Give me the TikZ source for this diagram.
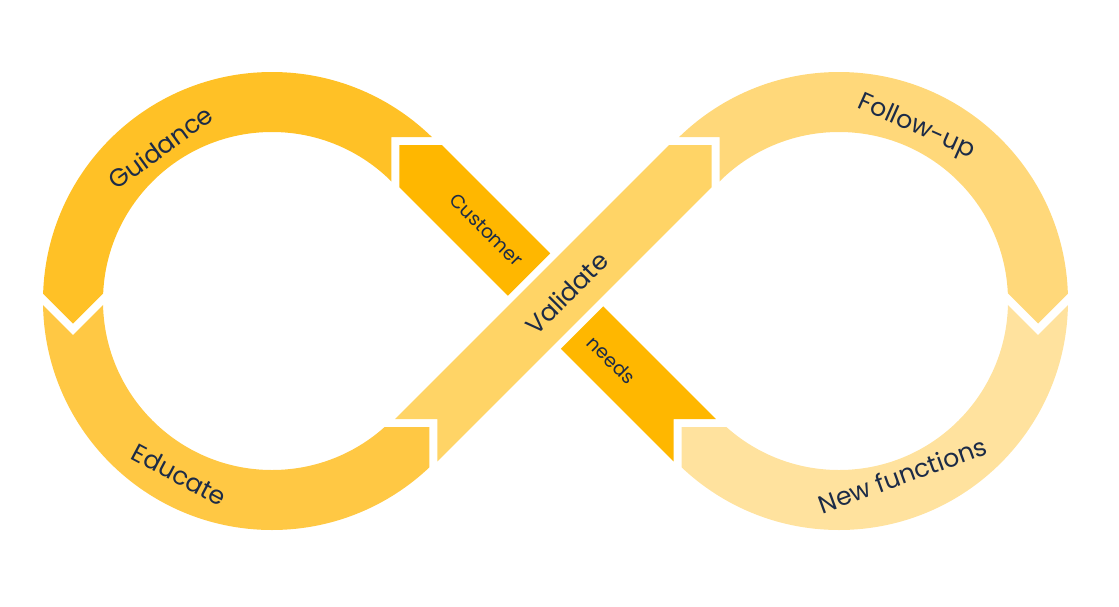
\documentclass[tikz,border=0pt]{standalone}
\usepackage{fontspec}
\setmainfont{Poppins}
\definecolor{guidance}{HTML}{FFC126}
\definecolor{educate}{HTML}{FFC844}
\definecolor{needs}{HTML}{FFB700}
\definecolor{validate}{HTML}{FFD466}
\definecolor{followup}{HTML}{FFD87A}
\definecolor{newfunc}{HTML}{FFE29E}
\definecolor{ink}{HTML}{1C2B47}
\tikzset{
  lbl/.style={text=ink, inner sep=0pt, font=\fontsize{14.3}{16}\selectfont},
  lblsmall/.style={lbl, font=\fontsize{10.8}{12}\selectfont},
}
\begin{document}
\begin{tikzpicture}[x=0.02cm,y=0.02cm]
    % one unit = one pixel, origin at the crossing
    \def\cx{283.5} % crossing to ring centre
    \def\rin{169}
    \def\rout{229}
    \useasboundingbox (-555.5,-305) rectangle (563.5,301);

    % left ring : upper part
    \begin{scope}
    \clip (-482.5,-22.5) -- (-382.5,77.5) -- (-164,77.5) -- (-164,164) -- (-100,164) -- (-100,260) -- (-560,260) -- (-560,55) -- cycle;
    \fill[guidance, even odd rule] (-\cx,0) circle (\rout) (-\cx,0) circle (\rin);
    \end{scope}
    % left ring : lower part
    \begin{scope}
    \clip (-560,43.5) -- (-482.5,-34) -- (-382.5,66) -- (-300,66) -- (-300,-126) -- (-126,-126) -- (-126,-260) -- (-560,-260) -- cycle;
    \fill[educate, even odd rule] (-\cx,0) circle (\rout) (-\cx,0) circle (\rin);
    \end{scope}

    % right ring, same cut mirrored
    \begin{scope}[xscale=-1]
    \begin{scope}
    \clip (-482.5,-22.5) -- (-382.5,77.5) -- (-164,77.5) -- (-164,164) -- (-100,164) -- (-100,260) -- (-560,260) -- (-560,55) -- cycle;
    \fill[followup, even odd rule] (-\cx,0) circle (\rout) (-\cx,0) circle (\rin);
    \end{scope}
    \begin{scope}
    \clip (-560,43.5) -- (-482.5,-34) -- (-382.5,66) -- (-300,66) -- (-300,-126) -- (-126,-126) -- (-126,-260) -- (-560,-260) -- cycle;
    \fill[newfunc, even odd rule] (-\cx,0) circle (\rout) (-\cx,0) circle (\rin);
    \end{scope}
    \end{scope}

    % crossing bands
    \fill[validate] (113.6,156) -- (156,156) -- (156,113.6) -- (-118,-160.4) -- (-118,-118) -- (-160.4,-118) -- cycle;
    \fill[needs] (-156,156) -- (-113.6,156) -- (-5.3,47.7) -- (-47.7,5.3) -- (-156,113.6) -- cycle;
    \fill[needs] (47.7,-5.3) -- (160.4,-118) -- (118,-118) -- (118,-160.4) -- (5.3,-47.7) -- cycle;

    % labels
    \begin{scope}[shift={(-\cx,0)}]
    \node[lbl, rotate=36] (guid) at (126:190) {Guidance};
    \node[lbl, rotate=-28] (educ) at (242:197) {Educate};
    \end{scope}
    \begin{scope}[shift={(\cx,0)}]
    \node[lbl, rotate=-24] (foll) at (66:190) {Follow-up};
    \node[lbl, rotate=20] (newf) at (-70:185) {New functions};
    \end{scope}
    \node[lbl, rotate=45] (vali) at (11,8) {Validate};
    \node[lblsmall, rotate=-45] (cust) at (-69,71) {Customer};
    \node[lblsmall, rotate=-45] (need) at (56,-59) {needs};
\end{tikzpicture}
\end{document}
